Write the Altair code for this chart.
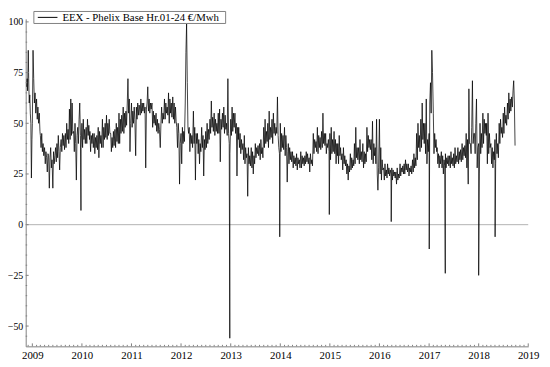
import altair as alt
import pandas as pd

legend_label = "EEX - Phelix Base Hr.01-24 €/Mwh"

# first weeks (Nov-Dec 2008)
start_dates = ["2008-11-20", "2008-11-24", "2008-11-27", "2008-12-02", "2008-12-05",
               "2008-12-09", "2008-12-13", "2008-12-17", "2008-12-21", "2008-12-25", "2008-12-29"]
start_vals = [68, 72, 66, 86, 72, 60, 64, 55, 50, 23, 42]

# six readings per month (1st, 6th, 11th, 16th, 21st, 26th)
p2009 = [50, 86, 72, 60, 65, 55,  62, 52, 58, 50, 55, 46,  44, 38, 45, 36, 40, 34,
         38, 30, 36, 33, 26, 35,  34, 18, 33, 38, 28, 32,  18, 36, 30, 34, 38, 31,
         40, 33, 44, 36, 27, 38,  42, 36, 45, 39, 44, 37,  45, 38, 50, 42, 47, 40,
         57, 42, 62, 44, 60, 45,  46, 36, 50, 40, 22, 44,  48, 40, 52, 60, 44, 38]
p2010 = [50, 38, 52, 42, 47, 40,  48, 40, 52, 44, 49, 42,  46, 36, 44, 40, 45, 38,
         45, 35, 43, 38, 44, 37,  48, 33, 46, 40, 44, 38,  52, 38, 48, 42, 50, 43,
         54, 42, 50, 44, 52, 45,  45, 36, 43, 38, 46, 39,  47, 38, 50, 41, 48, 40,
         55, 40, 52, 45, 54, 46,  58, 45, 55, 48, 56, 49,  60, 72, 55, 62, 36, 50]
p2011 = [60, 48, 56, 50, 58, 52,  34, 58, 52, 60, 54, 59,  58, 54, 62, 55, 60, 56,
         60, 55, 58, 28, 57, 60,  68, 56, 62, 55, 60, 57,  60, 48, 56, 50, 54, 49,
         55, 46, 52, 45, 50, 47,  38, 50, 58, 50, 55, 52,  62, 52, 60, 55, 58, 54,
         65, 50, 62, 55, 60, 53,  63, 52, 60, 50, 58, 51,  48, 38, 50, 45, 20, 40]
p2012 = [45, 30, 48, 40, 46, 41,  60, 85, 99, 70, 48, 45,  48, 36, 45, 40, 44, 38,
         56, 40, 48, 22, 45, 40,  45, 35, 42, 30, 40, 36,  48, 38, 44, 24, 42, 37,
         46, 38, 50, 40, 47, 42,  52, 45, 61, 48, 53, 46,  55, 44, 52, 46, 50, 45,
         55, 45, 57, 31, 52, 47,  55, 48, 58, 45, 54, 47,  50, 44, 72, 45, 40, 35]
p2013 = [52, 44, 58, 46, 55, 48,  55, 45, 50, 24, 48, 42,  48, 38, 45, 35, 42, 37,
         40, 32, 44, 30, 38, 33,  35, 14, 38, 30, 34, 29,  38, 28, 36, 25, 34, 30,
         40, 33, 38, 35, 39, 34,  40, 32, 42, 35, 38, 33,  48, 38, 52, 40, 46, 41,
         50, 38, 56, 42, 48, 43,  52, 40, 55, 45, 50, 44,  48, 45, 63, 44, 38, 35]
p2014 = [50, 36, 45, 38, 44, 37,  48, 34, 44, 38, 21, 36,  40, 30, 38, 32, 36, 31,
         36, 28, 34, 30, 33, 29,  35, 27, 33, 30, 32, 28,  36, 28, 34, 30, 33, 29,
         34, 30, 36, 31, 35, 30,  33, 26, 35, 30, 32, 29,  45, 35, 42, 38, 41, 36,
         48, 35, 44, 38, 43, 37,  46, 38, 55, 40, 45, 39,  45, 35, 40, 38, 42, 36]
p2015 = [45, 32, 48, 35, 42, 36,  46, 35, 42, 30, 40, 34,  40, 30, 44, 34, 38, 32,
         35, 27, 38, 30, 34, 29,  32, 25, 30, 22, 29, 26,  35, 27, 33, 28, 32, 29,
         40, 30, 48, 33, 38, 32,  38, 30, 42, 32, 36, 31,  40, 28, 36, 30, 35, 31,
         48, 36, 44, 38, 42, 37,  42, 32, 51, 30, 40, 34,  38, 30, 52, 25, 17, 28]
p2016 = [52, 25, 38, 22, 32, 27,  28, 22, 30, 24, 27, 23,  30, 25, 28, 24, 27, 25,
         28, 22, 27, 24, 26, 23,  26, 20, 28, 22, 25, 23,  30, 24, 28, 26, 29, 25,
         30, 25, 32, 27, 30, 26,  30, 24, 28, 26, 29, 25,  32, 26, 35, 28, 33, 29,
         45, 32, 50, 38, 44, 36,  52, 38, 60, 42, 50, 40,  50, 35, 62, 30, 42, 36]
p2017 = [45, 60, 70, 55, 86, 75,  55, 35, 45, 38, 42, 36,  38, 30, 35, 28, 34, 30,
         36, 28, 34, 25, 32, 29,  35, 28, 33, 30, 34, 29,  34, 28, 36, 30, 33, 29,
         35, 28, 38, 30, 34, 31,  38, 30, 36, 32, 37, 31,  40, 32, 38, 34, 39, 33,
         45, 28, 42, 20, 67, 40,  40, 35, 48, 71, 40, 45,  45, 35, 50, 62, 28, 38]
p2018 = [40, 25, 50, 35, 45, 38,  55, 40, 52, 45, 50, 44,  50, 30, 55, 35, 45, 38,
         40, 30, 38, 28, 36, 32,  42, 30, 45, 35, 40, 33,  50, 40, 52, 45, 48, 43,
         55, 45, 58, 50, 54, 49,  60, 52, 65, 55, 62, 56,  63, 58, 66, 71, 60, 39]
yearly = {2009: p2009, 2010: p2010, 2011: p2011, 2012: p2012, 2013: p2013,
          2014: p2014, 2015: p2015, 2016: p2016, 2017: p2017, 2018: p2018}
reading_days = [1, 6, 11, 16, 21, 26]

# isolated spikes
spike_dates = ["2009-12-25", "2012-12-25", "2013-12-28", "2014-12-28",
               "2016-03-28", "2017-01-02", "2017-04-30", "2018-01-01", "2018-05-02"]
spike_vals = [7, -56, -6, 5, 1.5, -12, -24, -25, -6]

rows = [(pd.Timestamp(d), v) for d, v in zip(start_dates, start_vals)]
for yr, vals in yearly.items():
    for i, v in enumerate(vals):
        rows.append((pd.Timestamp(yr, i // 6 + 1, reading_days[i % 6]), v))
rows += [(pd.Timestamp(d), v) for d, v in zip(spike_dates, spike_vals)]
df = pd.DataFrame(rows, columns=["date", "price"]).sort_values("date").reset_index(drop=True)

years = list(range(2009, 2020))
y_major = [-50, -25, 0, 25, 50, 75, 100]
y_minor = [v for v in range(-55, 101, 5) if v % 25 != 0]

W, H = 511, 333
GRAY = "#808080"
FONT = "Liberation Serif"

x_scale = alt.Scale(domain=[alt.DateTime(year=2008, month=11, date=13),
                            alt.DateTime(year=2019, month=1, date=1)])
y_scale = alt.Scale(domain=[-60, 101.5], nice=False, zero=False)

x_axis = alt.Axis(values=[alt.DateTime(year=y, month=1, date=1) for y in years],
                  format="%Y", title=None, ticks=False, tickSize=0, grid=False,
                  labelFont=FONT, labelFontSize=11, labelColor="black",
                  labelPadding=3, labelFlush=False, labelOverlap=False,
                  domainColor=GRAY, domainWidth=1)
y_axis = alt.Axis(values=y_major, title=None, ticks=False, tickSize=0, grid=False,
                  labelFont=FONT, labelFontSize=10, labelColor="black",
                  labelPadding=3, labelFlush=False, labelOverlap=False,
                  domainColor=GRAY, domainWidth=1)

zero = alt.Chart(pd.DataFrame({"v": [0]})).mark_rule(color="#b3b3b3", strokeWidth=1).encode(
    y=alt.Y("v:Q", scale=y_scale, axis=y_axis))

line = alt.Chart(df).mark_line(color="black", strokeWidth=0.75, clip=True).encode(
    x=alt.X("date:T", scale=x_scale, axis=x_axis),
    y=alt.Y("price:Q", scale=y_scale, axis=y_axis))

year_ticks = alt.Chart(pd.DataFrame({"d": [pd.Timestamp(y, 1, 1) for y in years]})).mark_rule(
    color=GRAY, strokeWidth=1).encode(
    x=alt.X("d:T", scale=x_scale, axis=x_axis), y=alt.value(H), y2=alt.value(H - 3))

month_list = [pd.Timestamp(y, m, 1) for y in range(2008, 2019) for m in range(1, 13)
              if m != 1 and pd.Timestamp(y, m, 1) > pd.Timestamp(2008, 11, 13)]
month_ticks = alt.Chart(pd.DataFrame({"d": month_list})).mark_rule(
    color=GRAY, strokeWidth=1).encode(
    x=alt.X("d:T", scale=x_scale, axis=x_axis), y=alt.value(H), y2=alt.value(H - 1.5))

ymaj_ticks = alt.Chart(pd.DataFrame({"v": y_major})).mark_rule(color=GRAY, strokeWidth=1).encode(
    y=alt.Y("v:Q", scale=y_scale, axis=y_axis), x=alt.value(0), x2=alt.value(3))
ymin_ticks = alt.Chart(pd.DataFrame({"v": y_minor})).mark_rule(color=GRAY, strokeWidth=1).encode(
    y=alt.Y("v:Q", scale=y_scale, axis=y_axis), x=alt.value(0), x2=alt.value(1.5))

leg_df = pd.DataFrame({"t": [legend_label]})
leg_box = alt.Chart(leg_df).mark_rect(fill="white", stroke=GRAY, strokeWidth=1).encode(
    x=alt.value(8.3), x2=alt.value(203.3), y=alt.value(-7.5), y2=alt.value(4.7))
leg_line = alt.Chart(leg_df).mark_rule(color="black", strokeWidth=1).encode(
    x=alt.value(12.3), x2=alt.value(32.3), y=alt.value(-1.5))
leg_text = alt.Chart(leg_df).mark_text(align="left", baseline="middle", font=FONT,
                                       fontSize=11, color="black").encode(
    x=alt.value(37.3), y=alt.value(-1.2), text="t:N")

chart = alt.layer(zero, line, year_ticks, month_ticks, ymaj_ticks, ymin_ticks,
                  leg_box, leg_line, leg_text).properties(
    width=W, height=H,
    autosize=alt.AutoSizeParams(type="none"),
    padding={"left": 18, "top": 8, "right": 14, "bottom": 20},
    background="white",
).configure_view(stroke=None)

chart.save("out.html", embed_options={"renderer": "svg", "actions": False})
